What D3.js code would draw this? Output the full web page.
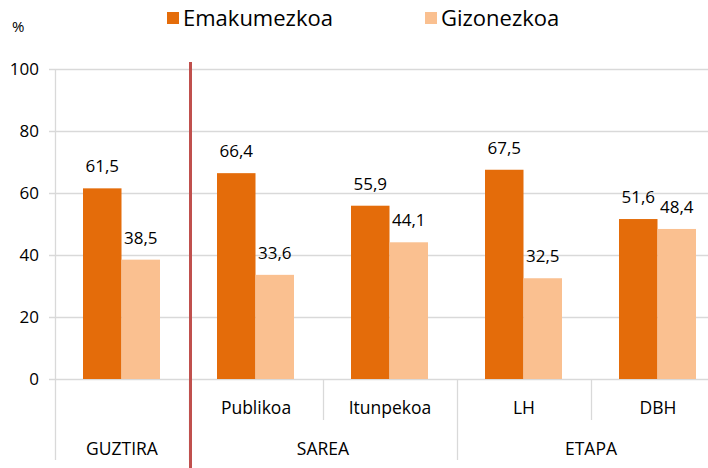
<!DOCTYPE html>
<html>
<head>
<meta charset="utf-8">
<script src="https://cdn.jsdelivr.net/npm/d3@7"></script>
<style>
  body { margin: 0; background: #fff; }
  svg { display: block; font-family: "Open Sans", sans-serif; }
</style>
</head>
<body>
<div id="chart"></div>
<script>
'use strict'

const categories = ['GUZTIRA', 'Publikoa', 'Itunpekoa', 'LH', 'DBH']
const subLabels = ['', 'Publikoa', 'Itunpekoa', 'LH', 'DBH']
const groupOf = ['GUZTIRA', 'SAREA', 'SAREA', 'ETAPA', 'ETAPA']
const series = ['Emakumezkoa', 'Gizonezkoa']
const emakumezkoa = [61.5, 66.4, 55.9, 67.5, 51.6]
const gizonezkoa = [38.5, 33.6, 44.1, 32.5, 48.4]
const yTicks = [0, 20, 40, 60, 80, 100]
const colors = ['#e46c0a', '#fac090']

const width = 708
const height = 468
const svg = d3.select('#chart')
  .append('svg')
  .attr('width', width)
  .attr('height', height)

const x = d3.scaleBand().domain(categories).range([55, 725])
const x1 = d3.scaleBand().domain(series).range([28, 105])
const y = d3.scaleLinear().domain([0, 100]).range([379, 69])

// gridlines
svg.append('g')
  .selectAll('line')
  .data(yTicks)
  .enter()
  .append('line')
  .attr('x1', 49)
  .attr('x2', width)
  .attr('y1', d => y(d) + 0.5)
  .attr('y2', d => y(d) + 0.5)
  .attr('stroke', '#d9d9d9')
  .attr('stroke-width', 1.3)

svg.append('line')
  .attr('x1', 55.5).attr('x2', 55.5)
  .attr('y1', y(100)).attr('y2', 460)
  .attr('stroke', '#d9d9d9')
  .attr('stroke-width', 1.3)

svg.append('g')
  .selectAll('text')
  .data(yTicks)
  .enter()
  .append('text')
  .attr('x', 39)
  .attr('y', d => y(d))
  .attr('dy', '0.35em')
  .attr('text-anchor', 'end')
  .attr('font-size', 17)
  .attr('fill', '#000')
  .text(d => d)

// bars
const rows = categories.map((c, i) => ({ cat: c, values: [emakumezkoa[i], gizonezkoa[i]] }))
const groups = svg.append('g')
  .selectAll('g')
  .data(rows)
  .enter()
  .append('g')
  .attr('transform', d => `translate(${x(d.cat)},0)`)

groups.selectAll('rect')
  .data(d => d.values.map((v, j) => ({ s: series[j], v, j })))
  .enter()
  .append('rect')
  .attr('x', d => x1(d.s))
  .attr('width', x1.bandwidth())
  .attr('y', d => y(d.v))
  .attr('height', d => y(0) - y(d.v))
  .attr('fill', d => colors[d.j])

groups.selectAll('text')
  .data(d => d.values.map((v, j) => ({ s: series[j], v })))
  .enter()
  .append('text')
  .attr('x', d => x1(d.s) + x1.bandwidth() / 2)
  .attr('y', d => y(d.v) - 16)
  .attr('text-anchor', 'middle')
  .attr('font-size', 17)
  .attr('fill', '#000')
  .text(d => d3.format('.1f')(d.v).replace('.', ','))

// category axis: sub labels and separators
categories.forEach((c, i) => {
  if (i > 0) {
    const sameGroup = groupOf[i] === groupOf[i - 1]
    svg.append('line')
      .attr('x1', x(c) + 0.5).attr('x2', x(c) + 0.5)
      .attr('y1', y(0)).attr('y2', sameGroup ? 420 : 460)
      .attr('stroke', '#d9d9d9').attr('stroke-width', 1.3)
  }
  svg.append('text')
    .attr('x', x(c) + x.bandwidth() / 2)
    .attr('y', 408)
    .attr('dy', '0.35em')
    .attr('text-anchor', 'middle')
    .attr('font-size', 17.5)
    .text(subLabels[i])
})

const groupNames = Array.from(new Set(groupOf))
groupNames.forEach(g => {
  const cats = categories.filter((c, i) => groupOf[i] === g)
  const x0 = x(cats[0])
  const xEnd = x(cats[cats.length - 1]) + x.bandwidth()
  svg.append('text')
    .attr('x', (x0 + xEnd) / 2)
    .attr('y', 449)
    .attr('dy', '0.35em')
    .attr('text-anchor', 'middle')
    .attr('font-size', 17.5)
    .text(g)
})

// red divider line
svg.append('line')
  .attr('x1', x(categories[1]) + 1.5).attr('x2', x(categories[1]) + 1.5)
  .attr('y1', 62).attr('y2', height)
  .attr('stroke', '#c0504d')
  .attr('stroke-width', 3)

// legend
svg.append('text')
  .attr('x', 12).attr('y', 27)
  .attr('dy', '0.35em')
  .attr('font-size', 15)
  .text('%')

const legendX = [167, 425]
series.forEach((s, i) => {
  svg.append('rect')
    .attr('x', legendX[i]).attr('y', 12)
    .attr('width', 12).attr('height', 12)
    .attr('fill', colors[i])
  svg.append('text')
    .attr('x', legendX[i] + 16).attr('y', 18)
    .attr('dy', '0.35em')
    .attr('font-size', 22)
    .text(s)
})
</script>
</body>
</html>
